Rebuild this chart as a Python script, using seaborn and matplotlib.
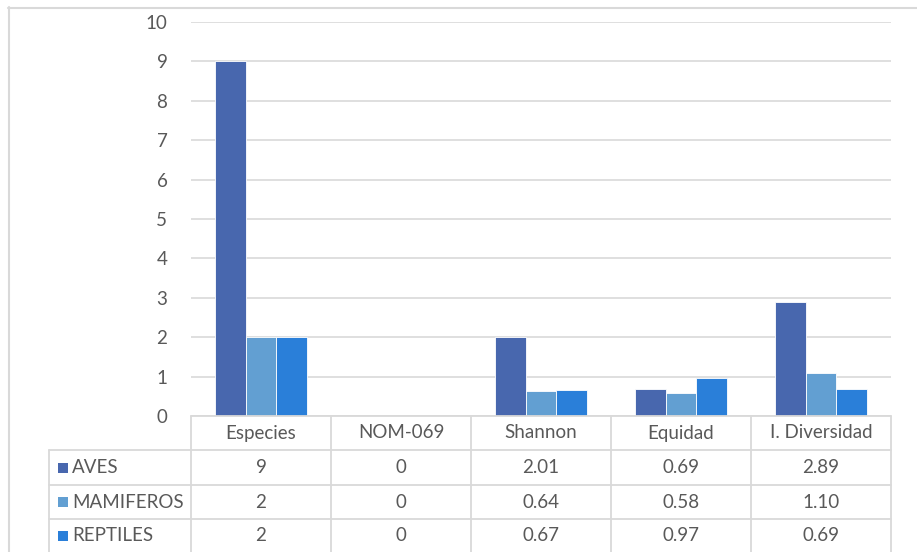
import matplotlib
matplotlib.use("Agg")
import matplotlib.pyplot as plt
from matplotlib.lines import Line2D
from matplotlib.patches import Rectangle
import seaborn as sns
import pandas as pd

# Datos
categorias = ["Especies", "NOM-069", "Shannon", "Equidad", "I. Diversidad"]
grupos = ["AVES", "MAMIFEROS", "REPTILES"]
aves = [9, 0, 2.01, 0.69, 2.89]
mamiferos = [2, 0, 0.64, 0.58, 1.10]
reptiles = [2, 0, 0.67, 0.97, 0.69]
formatos = ["{:.0f}", "{:.0f}", "{:.2f}", "{:.2f}", "{:.2f}"]
colores = ["#4867AE", "#629FD2", "#2A7FD9"]

series = {"AVES": aves, "MAMIFEROS": mamiferos, "REPTILES": reptiles}
filas = []
for g in grupos:
    for c, v in zip(categorias, series[g]):
        filas.append({"Indice": c, "Grupo": g, "Valor": v})
df = pd.DataFrame(filas)

sns.set_style("white")
plt.rcParams["font.family"] = ["Lato", "DejaVu Sans"]

W, H = 917, 552
fig = plt.figure(figsize=(W / 100, H / 100), dpi=100)

# helpers pixel -> fraccion de figura
def fx(x):
    return x / W

def fy(y):
    return 1 - y / H

x0, x1 = 191, 891
ytop, ybot = 22, 416
ax = fig.add_axes([fx(x0), fy(ybot), fx(x1) - fx(x0), fy(ytop) - fy(ybot)])

sns.barplot(data=df, x="Indice", y="Valor", hue="Grupo", order=categorias,
            hue_order=grupos, palette=colores, width=0.66, saturation=1,
            edgecolor="white", linewidth=0.6, ax=ax, legend=False)

fs = 13.5
ax.set_ylim(0, 10)
ax.set_yticks(range(0, 11))
ax.set_xlim(-0.5, len(categorias) - 0.5)
ax.yaxis.grid(True, color="#d9d9d9", linewidth=1.2)
ax.set_axisbelow(True)
for s in ax.spines.values():
    s.set_visible(False)
ax.set_xticks([])
ax.set_xlabel("")
ax.set_ylabel("")
ax.tick_params(axis="y", length=0, pad=17, labelsize=fs, labelcolor="#595959")

# tabla de datos
gris = "#d9d9d9"
txt = "#595959"
anchos = (x1 - x0) / len(categorias)
filas_y = [416, 450, 485, 519, 552]
xl = 49

def hline(y, xa, xb):
    fig.add_artist(Line2D([fx(xa), fx(xb)], [fy(y), fy(y)], color=gris, lw=1.3))

def vline(x, ya, yb):
    fig.add_artist(Line2D([fx(x), fx(x)], [fy(ya), fy(yb)], color=gris, lw=1.3))

hline(416, x0, x1)
for y in filas_y[1:4]:
    hline(y, xl, x1)
vline(xl, 450, 552)
for i in range(len(categorias) + 1):
    vline(x0 + i * anchos, 416, 552)

for i, c in enumerate(categorias):
    cx = x0 + (i + 0.5) * anchos
    fig.text(fx(cx), fy((filas_y[0] + filas_y[1]) / 2), c, ha="center",
             va="center", fontsize=fs, color=txt)

for r, g in enumerate(grupos):
    cy = (filas_y[r + 1] + filas_y[r + 2]) / 2
    fig.add_artist(Rectangle((fx(58), fy(cy + 5)), fx(10), 10 / H,
                             color=colores[r], lw=0))
    fig.text(fx(72), fy(cy), g, ha="left", va="center", fontsize=fs, color=txt)
    for i, v in enumerate(series[g]):
        cx = x0 + (i + 0.5) * anchos
        fig.text(fx(cx), fy(cy), formatos[i].format(v), ha="center",
                 va="center", fontsize=fs, color=txt)

# borde exterior
fig.add_artist(Line2D([fx(8), fx(W)], [fy(7.5), fy(7.5)], color=gris, lw=1.5))
fig.add_artist(Line2D([fx(8.5), fx(8.5)], [fy(7), fy(H)], color=gris, lw=1.5))

fig.savefig("out.png", dpi=100, facecolor="white")
